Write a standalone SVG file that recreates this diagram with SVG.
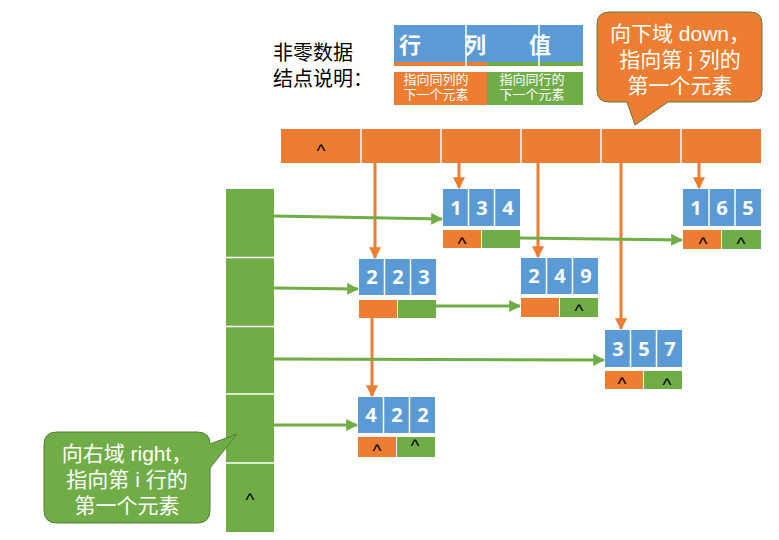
<svg xmlns="http://www.w3.org/2000/svg" width="779" height="540" viewBox="0 0 779 540">
<defs>
<style>
.b{fill:#5B9BD5}.o{fill:#ED7D31}.g{fill:#70AD47}
.div{stroke:#fff;stroke-width:1.5}
.num{font-family:"Open Sans","Liberation Sans",Arial,sans-serif;font-weight:bold;font-size:20px;fill:#fff;text-anchor:middle}
.nil{font-family:"Liberation Sans",Arial,sans-serif;font-size:19px;fill:#000;text-anchor:middle}
.cjk{font-family:"Liberation Sans","Noto Sans CJK SC",sans-serif}
.oa{stroke:#ED7D31;stroke-width:3;fill:none;marker-end:url(#ao)}
.ga{stroke:#70AD47;stroke-width:3;fill:none;marker-end:url(#ag)}
</style>
<marker id="ao" viewBox="0 0 10 10" refX="9" refY="5" markerWidth="4" markerHeight="4" orient="auto" markerUnits="strokeWidth"><path d="M0,0 L10,5 L0,10 z" fill="#ED7D31"/></marker>
<marker id="ag" viewBox="0 0 10 10" refX="9" refY="5" markerWidth="4" markerHeight="4" orient="auto" markerUnits="strokeWidth"><path d="M0,0 L10,5 L0,10 z" fill="#70AD47"/></marker>
</defs>
<rect width="779" height="540" fill="#fff"/>

<g id="legend">
<text class="cjk" x="273" y="60" font-size="20" fill="#000">非零数据</text>
<text class="cjk" x="273" y="86" font-size="20" fill="#000">结点说明：</text>
<rect class="b" x="394" y="25" width="189" height="37"/>
<rect class="o" x="394" y="62" width="93" height="4"/>
<rect class="g" x="487" y="62" width="96" height="4"/>
<line class="div" x1="466" y1="25" x2="466" y2="66"/>
<line class="div" x1="539" y1="25" x2="539" y2="66"/>
<text class="cjk" x="410" y="53" font-size="22" font-weight="bold" fill="#fff" text-anchor="middle">行</text>
<text class="cjk" x="475" y="53" font-size="22" font-weight="bold" fill="#fff" text-anchor="middle">列</text>
<text class="cjk" x="540" y="53" font-size="22" font-weight="bold" fill="#fff" text-anchor="middle">值</text>
<rect class="o" x="394" y="72" width="93" height="33"/>
<rect class="g" x="487" y="72" width="96" height="33"/>
<text class="cjk" x="436" y="84" font-size="13" fill="#fff" text-anchor="middle">指向同列的</text>
<text class="cjk" x="436" y="99" font-size="13" fill="#fff" text-anchor="middle">下一个元素</text>
<text class="cjk" x="532" y="84" font-size="13" fill="#fff" text-anchor="middle">指向同行的</text>
<text class="cjk" x="532" y="99" font-size="13" fill="#fff" text-anchor="middle">下一个元素</text>
</g>

<g id="callout-down">
<path d="M610,12 H750 Q762,12 762,24 V90 Q762,102 750,102 H668 L635,125 L627,102 H609 Q597,102 597,90 V24 Q597,12 610,12 Z" fill="#ED7D31" stroke="#5B7F38" stroke-width="1"/>
<text class="cjk" x="680" y="41" font-size="21" fill="#fff" text-anchor="middle">向下域 down，</text>
<text class="cjk" x="680" y="67" font-size="21" fill="#fff" text-anchor="middle">指向第 j 列的</text>
<text class="cjk" x="680" y="93" font-size="21" fill="#fff" text-anchor="middle">第一个元素</text>
</g>

<g id="col-heads">
<rect class="o" x="281" y="129" width="480" height="34"/>
<line class="div" x1="361" y1="129" x2="361" y2="163"/>
<line class="div" x1="441" y1="129" x2="441" y2="163"/>
<line class="div" x1="521" y1="129" x2="521" y2="163"/>
<line class="div" x1="601" y1="129" x2="601" y2="163"/>
<line class="div" x1="681" y1="129" x2="681" y2="163"/>
<text class="nil" x="321" y="157">^</text>
</g>

<g id="row-heads">
<rect class="g" x="226" y="189" width="48" height="343"/>
<line class="div" x1="226" y1="257.5" x2="274" y2="257.5"/>
<line class="div" x1="226" y1="326.5" x2="274" y2="326.5"/>
<line class="div" x1="226" y1="394" x2="274" y2="394"/>
<line class="div" x1="226" y1="463" x2="274" y2="463"/>
<text class="nil" x="250" y="506">^</text>
</g>

<g id="connectors">
<line class="oa" x1="375" y1="163" x2="375" y2="258"/>
<line class="oa" x1="372" y1="318" x2="372" y2="396"/>
<line class="oa" x1="459" y1="163" x2="459" y2="188"/>
<line class="oa" x1="538" y1="163" x2="538" y2="257"/>
<line class="oa" x1="621" y1="163" x2="621" y2="329"/>
<line class="oa" x1="699" y1="163" x2="699" y2="188"/>
<line class="ga" x1="274" y1="216" x2="442" y2="219"/>
<line class="ga" x1="520" y1="238" x2="682" y2="240"/>
<line class="ga" x1="274" y1="288" x2="358" y2="289"/>
<line class="ga" x1="436" y1="306" x2="520" y2="306"/>
<line class="ga" x1="274" y1="359" x2="604" y2="360"/>
<line class="ga" x1="274" y1="425" x2="357" y2="425"/>
</g>

<g id="n134">
<rect class="b" x="443" y="189" width="77" height="37"/>
<line class="div" x1="468.5" y1="189" x2="468.5" y2="226"/><line class="div" x1="494.5" y1="189" x2="494.5" y2="226"/>
<text class="num" x="456" y="215">1</text><text class="num" x="482" y="215">3</text><text class="num" x="508" y="215">4</text>
<rect class="o" x="443" y="230" width="38" height="18"/><rect class="g" x="482" y="230" width="38" height="18"/>
<text class="nil" x="462" y="250">^</text>
</g>

<g id="n165">
<rect class="b" x="683" y="189" width="78" height="37"/>
<line class="div" x1="709" y1="189" x2="709" y2="226"/><line class="div" x1="735" y1="189" x2="735" y2="226"/>
<text class="num" x="696" y="215">1</text><text class="num" x="722" y="215">6</text><text class="num" x="748" y="215">5</text>
<rect class="o" x="683" y="230" width="38" height="19"/><rect class="g" x="722" y="230" width="39" height="19"/>
<text class="nil" x="703" y="250">^</text><text class="nil" x="741" y="250">^</text>
</g>

<g id="n223">
<rect class="b" x="359" y="259" width="77" height="36"/>
<line class="div" x1="384.5" y1="259" x2="384.5" y2="295"/><line class="div" x1="410.5" y1="259" x2="410.5" y2="295"/>
<text class="num" x="372" y="284">2</text><text class="num" x="398" y="284">2</text><text class="num" x="424" y="284">3</text>
<rect class="o" x="359" y="300" width="38" height="18"/><rect class="g" x="398" y="300" width="38" height="18"/>
</g>

<g id="n249">
<rect class="b" x="521" y="258" width="77" height="36"/>
<line class="div" x1="546.5" y1="258" x2="546.5" y2="294"/><line class="div" x1="572.5" y1="258" x2="572.5" y2="294"/>
<text class="num" x="534" y="283">2</text><text class="num" x="560" y="283">4</text><text class="num" x="586" y="283">9</text>
<rect class="o" x="521" y="298" width="38" height="19"/><rect class="g" x="560" y="298" width="38" height="19"/>
<text class="nil" x="579" y="317">^</text>
</g>

<g id="n357">
<rect class="b" x="605" y="330" width="77" height="37"/>
<line class="div" x1="630.5" y1="330" x2="630.5" y2="367"/><line class="div" x1="656.5" y1="330" x2="656.5" y2="367"/>
<text class="num" x="618" y="356">3</text><text class="num" x="644" y="356">5</text><text class="num" x="670" y="356">7</text>
<rect class="o" x="605" y="371" width="38" height="18"/><rect class="g" x="644" y="371" width="38" height="18"/>
<text class="nil" x="622" y="390">^</text><text class="nil" x="667" y="391">^</text>
</g>

<g id="n422">
<rect class="b" x="358" y="397" width="77" height="36"/>
<line class="div" x1="383.5" y1="397" x2="383.5" y2="433"/><line class="div" x1="409.5" y1="397" x2="409.5" y2="433"/>
<text class="num" x="371" y="422">4</text><text class="num" x="397" y="422">2</text><text class="num" x="423" y="422">2</text>
<rect class="o" x="358" y="437" width="38" height="20"/><rect class="g" x="397" y="437" width="38" height="20"/>
<text class="nil" x="377" y="457">^</text><text class="nil" x="415" y="452">^</text>
</g>

<g id="callout-right">
<path d="M57,432 H197 Q210,432 210,444 L237,434 L210,468 V510 Q210,523 197,523 H57 Q44,523 44,510 V445 Q44,432 57,432 Z" fill="#70AD47" stroke="#507E32" stroke-width="1"/>
<text class="cjk" x="127" y="461" font-size="21" fill="#fff" text-anchor="middle">向右域 right，</text>
<text class="cjk" x="127" y="487" font-size="21" fill="#fff" text-anchor="middle">指向第 i 行的</text>
<text class="cjk" x="127" y="513" font-size="21" fill="#fff" text-anchor="middle">第一个元素</text>
</g>
</svg>
